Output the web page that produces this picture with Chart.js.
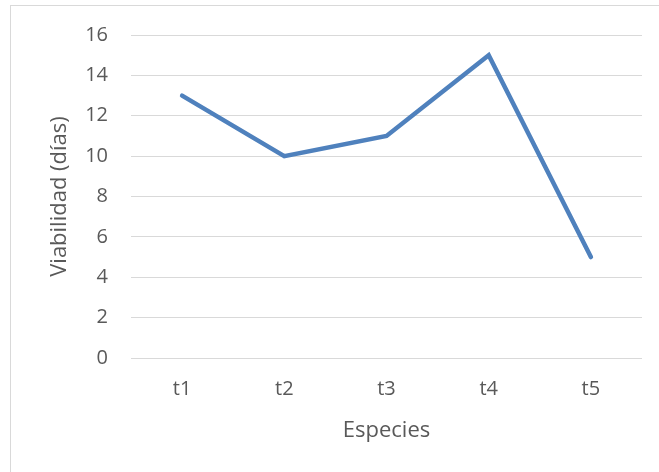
<!DOCTYPE html>
<html>
<head>
<meta charset="utf-8">
<script src="https://cdn.jsdelivr.net/npm/chart.js@4"></script>
<style>
  html, body { margin: 0; padding: 0; background: #ffffff; overflow: hidden; }
  #frame {
    position: absolute; left: 10px; top: 5px; width: 700px; height: 600px;
    border: 1px solid #d9d9d9; box-sizing: border-box;
  }
  #wrap { position: absolute; left: 0; top: 0; width: 659px; height: 472px; }
</style>
</head>
<body>
<div id="frame"></div>
<div id="wrap"><canvas id="chart"></canvas></div>
<script>
// Viabilidad por especie
const categories = ['t1', 't2', 't3', 't4', 't5'];
const viabilidad = [13, 10, 11, 15, 5];
const yTicks = [0, 2, 4, 6, 8, 10, 12, 14, 16];

const textColor = '#595959';
const gridColor = '#d9d9d9';
const fontFamily = '"Open Sans", "Liberation Sans", sans-serif';

new Chart(document.getElementById('chart'), {
  type: 'line',
  data: {
    labels: categories,
    datasets: [{
      label: 'Viabilidad (días)',
      data: viabilidad,
      borderColor: '#4f81bd',
      backgroundColor: '#4f81bd',
      borderWidth: 4.5,
      borderCapStyle: 'round',
      borderJoinStyle: 'miter',
      pointRadius: 0,
      tension: 0,
      fill: false
    }]
  },
  options: {
    responsive: true,
    maintainAspectRatio: false,
    animation: false,
    layout: { padding: { top: 34, right: 17, left: 0, bottom: 0 } },
    plugins: {
      legend: { display: false },
      tooltip: { enabled: false }
    },
    scales: {
      x: {
        offset: true,
        grid: { display: false, drawTicks: false },
        border: { display: false },
        ticks: {
          color: textColor,
          padding: 19,
          font: { family: fontFamily, size: 20 }
        },
        title: {
          display: true,
          text: 'Especies',
          color: textColor,
          padding: { top: 0, bottom: 28 },
          font: { family: fontFamily, size: 22 }
        },
        afterFit: (scale) => { scale.height = 114; }
      },
      y: {
        min: 0,
        max: 16,
        afterBuildTicks: (scale) => { scale.ticks = yTicks.map(v => ({ value: v })); },
        grid: { color: gridColor, lineWidth: 1, drawTicks: false },
        border: { display: false },
        ticks: {
          color: textColor,
          padding: 23,
          font: { family: fontFamily, size: 20 }
        },
        title: {
          display: true,
          text: 'Viabilidad (días)',
          color: textColor,
          padding: { top: 47, bottom: 0 },
          font: { family: fontFamily, size: 22 }
        },
        afterFit: (scale) => { scale.width = 131; }
      }
    }
  }
});
</script>
</body>
</html>
